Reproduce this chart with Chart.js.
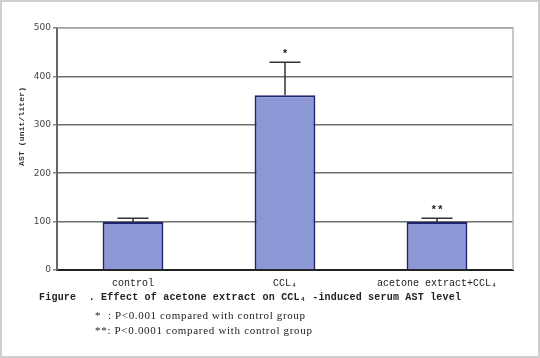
<!DOCTYPE html>
<html>
<head>
<meta charset="utf-8">
<script src="https://cdn.jsdelivr.net/npm/chart.js@4"></script>
<style>
  html, body { margin: 0; padding: 0; background: #ffffff; }
  #c { display: block; }
</style>
</head>
<body>
<canvas id="c" width="540" height="358"></canvas>
<script>
// ---- data ----
const categories = ["control", "CCL\u2084", "acetone extract+CCL\u2084"];
const meanAST = [99, 361, 99];
const upperError = [107, 429, 107];
const significance = ["", "*", "**"];
const yTickValues = [0, 100, 200, 300, 400, 500];
const yAxisTitle = "AST (unit/liter)";
const captionText = "Figure  . Effect of acetone extract on CCL\u2084 -induced serum AST level";
const footnotes = ["*  : P<0.001 compared with control group", "**: P<0.0001 compared with control group"];

function fitText(ctx, text, x, y, targetWidth) {
  ctx.save();
  ctx.letterSpacing = "0px";
  const w = ctx.measureText(text).width;
  const n = Math.max(1, [...text].length - 1);
  ctx.letterSpacing = ((targetWidth - w) / n) + "px";
  ctx.fillText(text, x, y);
  ctx.restore();
}

const decor = {
  id: 'decor',
  afterDatasetsDraw(chart) {
    const ctx = chart.ctx;
    const a = chart.chartArea;
    const xs = chart.scales.x, ys = chart.scales.y;
    ctx.save();
    // light top/right frame of plot
    ctx.strokeStyle = '#b8b8b8';
    ctx.lineWidth = 1.5;
    ctx.beginPath();
    ctx.moveTo(a.left, a.top); ctx.lineTo(a.right, a.top); ctx.lineTo(a.right, a.bottom);
    ctx.stroke();
    // error bars
    ctx.strokeStyle = '#333';
    ctx.lineWidth = 1.5;
    ctx.fillStyle = '#222';
    ctx.font = 'bold 11px "Liberation Mono", monospace';
    ctx.textAlign = 'center';
    ctx.textBaseline = 'middle';
    for (let i = 0; i < categories.length; i++) {
      const x = xs.getPixelForValue(i);
      const yTop = ys.getPixelForValue(meanAST[i]);
      const yErr = ys.getPixelForValue(upperError[i]);
      ctx.beginPath();
      ctx.moveTo(x, yTop); ctx.lineTo(x, yErr);
      ctx.moveTo(x - 15.5, yErr); ctx.lineTo(x + 15.5, yErr);
      ctx.stroke();
      if (significance[i]) ctx.fillText(significance[i], x, yErr - 8);
    }
    ctx.restore();
  },
  afterDraw(chart) {
    const ctx = chart.ctx;
    ctx.save();
    // y axis title
    ctx.fillStyle = '#333';
    ctx.font = 'bold 8px "Liberation Mono", monospace';
    ctx.textAlign = 'left';
    ctx.textBaseline = 'middle';
    ctx.translate(22, 127);
    ctx.rotate(-Math.PI / 2);
    fitText(ctx, yAxisTitle, -39, 0, 79);
    ctx.restore();

    ctx.save();
    ctx.fillStyle = '#222';
    ctx.textAlign = 'left';
    ctx.textBaseline = 'middle';
    ctx.font = 'bold 10px "Liberation Mono", monospace';
    fitText(ctx, captionText, 39, 297, 422);
    ctx.font = '11px "Liberation Serif", serif';
    fitText(ctx, footnotes[0], 95, 316, 210);
    fitText(ctx, footnotes[1], 95, 331, 217);
    // outer frame
    ctx.strokeStyle = '#cfcfcf';
    ctx.lineWidth = 2;
    ctx.strokeRect(1, 1, 538, 356);
    ctx.restore();
  }
};

new Chart(document.getElementById('c'), {
  type: 'bar',
  data: {
    labels: categories,
    datasets: [{
      data: meanAST,
      backgroundColor: '#8c97d6',
      borderColor: '#1e236e',
      borderWidth: 2,
      barPercentage: 0.4,
      categoryPercentage: 1
    }]
  },
  options: {
    responsive: false,
    animation: false,
    devicePixelRatio: 1,
    layout: { padding: { top: 28, right: 27, left: 0, bottom: 0 } },
    plugins: { legend: { display: false }, tooltip: { enabled: false }, title: { display: false } },
    scales: {
      x: {
        grid: { display: false, drawTicks: false },
        border: { display: true, color: '#222', width: 2 },
        ticks: { color: '#222', font: { family: '"Liberation Mono", monospace', size: 10, weight: '500' }, padding: 7, maxRotation: 0 },
        afterFit(scale) { scale.height = 88; }
      },
      y: {
        min: 0, max: 500,
        afterBuildTicks(scale) { scale.ticks = yTickValues.map(v => ({ value: v })); },
        grid: { color: '#6e6e6e', lineWidth: 1.5, tickLength: 4, tickColor: '#888' },
        border: { display: true, color: '#666', width: 2 },
        ticks: { color: '#444', font: { family: '"DejaVu Sans", sans-serif', size: 9 }, padding: 2 },
        afterFit(scale) { scale.width = 57; }
      }
    }
  },
  plugins: [decor]
});
</script>
</body>
</html>
